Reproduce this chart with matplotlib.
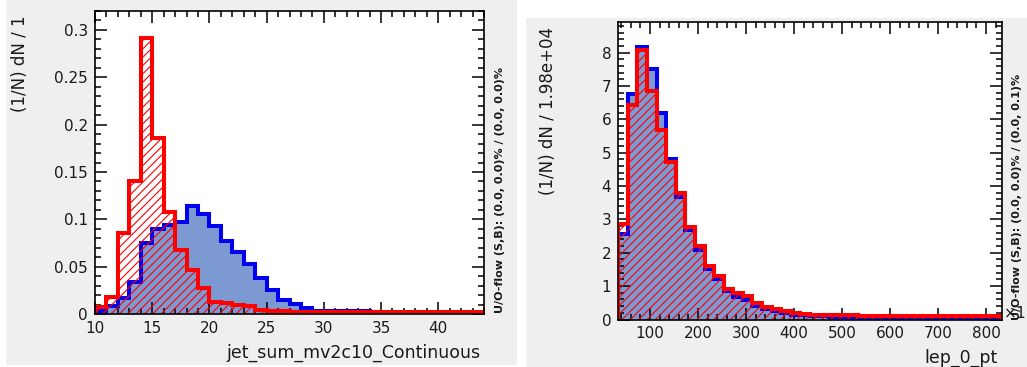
import numpy as np
import matplotlib
matplotlib.use("Agg")
import matplotlib.pyplot as plt
from matplotlib.patches import Rectangle
from matplotlib.ticker import MultipleLocator, FuncFormatter

# ---------------- data ----------------
jet_range = (10.0, 44.0)          # 34 bins of width 1
jet_signal = [0.003, 0.008, 0.017, 0.034, 0.075, 0.090, 0.094, 0.097, 0.114, 0.106,
              0.093, 0.077, 0.066, 0.053, 0.038, 0.025, 0.015, 0.0105, 0.006, 0.0036,
              0.003, 0.003, 0.003, 0.003, 0.002, 0.0015, 0.0015, 0.0015, 0.0015, 0.0015,
              0.0015, 0.0015, 0.0015, 0.0015]
jet_background = [0.007, 0.018, 0.086, 0.140, 0.291, 0.186, 0.108, 0.068, 0.046, 0.027,
                  0.013, 0.012, 0.009, 0.008, 0.004, 0.003, 0.003, 0.0025, 0.0022, 0.0022,
                  0.0022, 0.0022, 0.0022, 0.0022, 0.0022, 0.0022, 0.0022, 0.0022, 0.0022, 0.0022,
                  0.0022, 0.0022, 0.0022, 0.0022]

lep_range = (34.0, 832.7)         # 40 bins
lep_signal = [2.55, 6.75, 8.16, 7.50, 6.20, 4.82, 3.68, 2.69, 2.09, 1.52,
              1.22, 0.85, 0.67, 0.58, 0.40, 0.30, 0.24, 0.18, 0.14, 0.12,
              0.10, 0.09, 0.08, 0.07, 0.07, 0.05, 0.05, 0.05, 0.05, 0.05,
              0.05, 0.05, 0.05, 0.05, 0.05, 0.05, 0.05, 0.05, 0.05, 0.05]
lep_background = [2.85, 6.43, 8.08, 6.85, 5.68, 4.72, 3.78, 2.78, 2.20, 1.60,
                  1.30, 0.90, 0.78, 0.70, 0.50, 0.38, 0.31, 0.24, 0.19, 0.17,
                  0.14, 0.14, 0.14, 0.14, 0.14, 0.09, 0.09, 0.09, 0.09, 0.09,
                  0.09, 0.09, 0.09, 0.09, 0.09, 0.09, 0.09, 0.09, 0.09, 0.09]

panels = [
    dict(rng=jet_range, sig=jet_signal, bkg=jet_background,
         xlabel="jet_sum_mv2c10_Continuous", ylabel="(1/N) dN / 1",
         uo="U/O-flow (S,B): (0.0, 0.0)% / (0.0, 0.0)%",
         ylim=0.320, xmaj=5, xmin=1, ymaj=0.05, ymin=0.01),
    dict(rng=lep_range, sig=lep_signal, bkg=lep_background,
         xlabel="lep_0_pt", ylabel="(1/N) dN / 1.98e+04",
         uo="U/O-flow (S,B): (0.0, 0.0)% / (0.0, 0.1)%",
         ylim=8.93, xmaj=100, xmin=20, ymaj=1, ymin=0.2),
]

# ---------------- style / layout ----------------
W, H = 1027, 367
DPI = 100
plt.rcParams["font.family"] = ["DejaVu Sans"]
plt.rcParams["hatch.linewidth"] = 0.8

fig = plt.figure(figsize=(W / DPI, H / DPI), dpi=DPI, facecolor="white")

def fx(x):
    return x / W

def fy(y):
    return 1 - y / H

BG = "#efefef"
fig.patches.append(Rectangle((fx(6), fy(365)), fx(517) - fx(6), fy(0) - fy(365),
                             transform=fig.transFigure, facecolor=BG, edgecolor="none", zorder=-5))
fig.patches.append(Rectangle((fx(526), fy(367)), fx(1027) - fx(526), fy(18) - fy(367),
                             transform=fig.transFigure, facecolor=BG, edgecolor="none", zorder=-5))

axes_px = [(95, 11, 484, 314), (618.3, 21.7, 1001.7, 319.5)]
ylabel_pos = [(20, 15), (548, 27)]
xlabel_pos = [(480, 353), (998, 358)]
uo_pos = [(500, 313), (1017, 320)]

FILL = "#7d99d1"
BLUE = "#0000ee"
RED = "#ff0000"
TXT = "#1a1a1a"

for p, (x0, y0, x1, y1), ylp, xlp, uop in zip(panels, axes_px, ylabel_pos, xlabel_pos, uo_pos):
    ax = fig.add_axes([fx(x0), fy(y1), fx(x1) - fx(x0), fy(y0) - fy(y1)])
    ax.set_facecolor("white")
    edges = np.linspace(p["rng"][0], p["rng"][1], len(p["sig"]) + 1)
    sig = np.asarray(p["sig"])
    bkg = np.asarray(p["bkg"])

    ax.stairs(sig, edges, fill=True, facecolor=FILL, edgecolor="none", linewidth=0, zorder=1)
    ax.stairs(sig, edges, baseline=0, color=BLUE, linewidth=2.9, zorder=2)
    ax.stairs(bkg, edges, fill=True, facecolor="none", edgecolor=RED, hatch="////",
              linewidth=0, zorder=3)
    ax.stairs(bkg, edges, baseline=0, color=RED, linewidth=2.9, zorder=4)

    ax.set_xlim(p["rng"][0], p["rng"][1])
    ax.set_ylim(0, p["ylim"])
    ax.xaxis.set_major_locator(MultipleLocator(p["xmaj"]))
    ax.xaxis.set_minor_locator(MultipleLocator(p["xmin"]))
    ax.yaxis.set_major_locator(MultipleLocator(p["ymaj"]))
    ax.yaxis.set_minor_locator(MultipleLocator(p["ymin"]))
    fmt = FuncFormatter(lambda v, pos: f"{v:g}")
    ax.xaxis.set_major_formatter(fmt)
    ax.yaxis.set_major_formatter(fmt)
    ax.tick_params(which="both", direction="in", top=True, right=True, width=1.1,
                   colors="black", labelcolor=TXT, labelsize=11)
    ax.tick_params(which="major", length=8.5)
    ax.tick_params(which="minor", length=4.5)
    ax.tick_params(axis="x", which="major", pad=5)
    ax.tick_params(axis="y", which="major", pad=5)
    for s in ax.spines.values():
        s.set_linewidth(1.2)
        s.set_zorder(6)

    fig.text(fx(ylp[0]), fy(ylp[1]), p["ylabel"], rotation=90, ha="center", va="top",
             fontsize=12, color=TXT)
    fig.text(fx(xlp[0]), fy(xlp[1]), p["xlabel"], ha="right", va="center",
             fontsize=12.5, color=TXT)
    fig.text(fx(uop[0]), fy(uop[1]), p["uo"], rotation=90, ha="center", va="bottom",
             fontsize=8, color=TXT, fontweight="bold")

fig.text(fx(1003), fy(313), r"$\times10^{3}$", ha="left", va="center", fontsize=11, color=TXT)

fig.savefig("out.png", dpi=DPI, facecolor="white")
